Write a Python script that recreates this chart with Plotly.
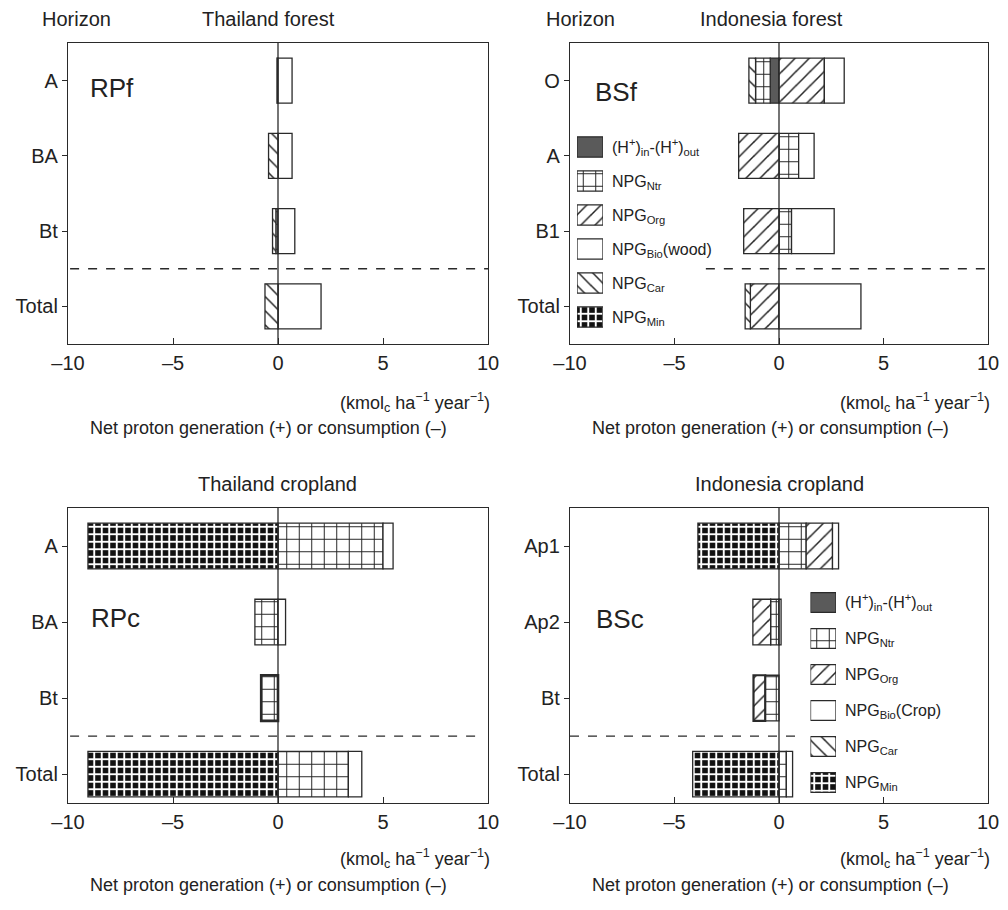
import plotly.graph_objects as go

W, H = 1008, 910

# ---------------- data ----------------
th_forest_horizons = ["A", "BA", "Bt", "Total"]
id_forest_horizons = ["O", "A", "B1", "Total"]
th_crop_horizons = ["A", "BA", "Bt", "Total"]
id_crop_horizons = ["Ap1", "Ap2", "Bt", "Total"]

# Thailand forest (RPf)
RPf_H = [0, 0, 0, 0]
RPf_Ntr = [-0.05, 0, -0.1, 0]
RPf_Org = [0, 0, 0, 0]
RPf_Bio = [0.67, 0.67, 0.8, 2.05]
RPf_Car = [0, -0.45, -0.16, -0.62]
RPf_Min = [0, 0, 0, 0]

# Indonesia forest (BSf)
BSf_H = [-0.42, 0, 0, 0]
BSf_Ntr = [-0.7, 0.94, 0.6, 0]
BSf_Org = [2.17, -1.93, -1.69, -1.37]
BSf_Bio = [0.95, 0.74, 2.04, 3.92]
BSf_Car = [-0.32, 0, 0, -0.25]
BSf_Min = [0, 0, 0, 0]

# Thailand cropland (RPc)
RPc_H = [0, 0, 0, 0]
RPc_Ntr = [5.0, -1.1, -0.8, 3.35]
RPc_Org = [0, 0, 0, 0]
RPc_Bio = [0.48, 0.36, 0, 0.64]
RPc_Car = [0, 0, 0, 0]
RPc_Min = [-9.05, 0, 0, -9.05]

# Indonesia cropland (BSc)
BSc_H = [0, 0, 0, 0]
BSc_Ntr = [1.3, -0.4, -0.66, 0.35]
BSc_Org = [1.26, -0.85, -0.56, 0]
BSc_Bio = [0.29, 0.1, 0, 0.3]
BSc_Car = [0, 0, 0, 0]
BSc_Min = [-3.88, 0, 0, -4.13]

x_tick_vals = [-10, -5, 0, 5, 10]
x_tick_text = ["–10", "–5", "0", "5", "10"]

legend_forest_labels = ["(H<sup>+</sup>)<sub>in</sub>-(H<sup>+</sup>)<sub>out</sub>", "NPG<sub>Ntr</sub>",
                        "NPG<sub>Org</sub>", "NPG<sub>Bio</sub>(wood)", "NPG<sub>Car</sub>", "NPG<sub>Min</sub>"]
legend_crop_labels = ["(H<sup>+</sup>)<sub>in</sub>-(H<sup>+</sup>)<sub>out</sub>", "NPG<sub>Ntr</sub>",
                      "NPG<sub>Org</sub>", "NPG<sub>Bio</sub>(Crop)", "NPG<sub>Car</sub>", "NPG<sub>Min</sub>"]
legend_key = [1, 1, 1, 1, 1, 1]

# ---------------- styles ----------------
FONT = "Liberation Sans, Arial, Helvetica, sans-serif"
TXT = "#222222"
LINE = "#2a2a2a"
COMPS = ["H", "Ntr", "Org", "Bio", "Car", "Min"]
STYLE = {
    "H": dict(color="#5a5a5a", shape="", fg="#5a5a5a", bg="#5a5a5a", size=8, sol=0.3),
    "Ntr": dict(color="white", shape="+", fg="#222222", bg="white", size=12.5, sol=0.15),
    "Org": dict(color="white", shape="/", fg="#222222", bg="white", size=10, sol=0.15),
    "Bio": dict(color="white", shape="", fg="white", bg="white", size=8, sol=0.3),
    "Car": dict(color="white", shape="\\", fg="#222222", bg="white", size=10, sol=0.15),
    "Min": dict(color="black", shape="+", fg="white", bg="#111111", size=7.5, sol=0.45),
}
# heavier outlines seen on a few bars (panel index, component) -> per-row widths
HEAVY = {(2, "Ntr"): [1.3, 1.3, 2.6, 1.3], (3, "Org"): [1.3, 1.3, 2.2, 1.3]}


def px_x(p):
    return p / W


def px_y(p):
    return 1 - p / H


def marker_for(c, lw=1.3):
    st = STYLE[c]
    return dict(color=st["color"], line=dict(color=LINE, width=lw),
                pattern=dict(shape=st["shape"], fgcolor=st["fg"], bgcolor=st["bg"],
                             size=st["size"], solidity=st["sol"], fillmode="replace"))


panels = [
    dict(cats=th_forest_horizons,
         vals=dict(H=RPf_H, Ntr=RPf_Ntr, Org=RPf_Org, Bio=RPf_Bio, Car=RPf_Car, Min=RPf_Min),
         xpx=(68, 488), ypx=(43, 344)),
    dict(cats=id_forest_horizons,
         vals=dict(H=BSf_H, Ntr=BSf_Ntr, Org=BSf_Org, Bio=BSf_Bio, Car=BSf_Car, Min=BSf_Min),
         xpx=(570, 988), ypx=(43, 344)),
    dict(cats=th_crop_horizons,
         vals=dict(H=RPc_H, Ntr=RPc_Ntr, Org=RPc_Org, Bio=RPc_Bio, Car=RPc_Car, Min=RPc_Min),
         xpx=(68, 488), ypx=(508, 803)),
    dict(cats=id_crop_horizons,
         vals=dict(H=BSc_H, Ntr=BSc_Ntr, Org=BSc_Org, Bio=BSc_Bio, Car=BSc_Car, Min=BSc_Min),
         xpx=(570, 988), ypx=(508, 803)),
]

fig = go.Figure()
layout = dict(
    width=W, height=H, margin=dict(l=0, r=0, t=0, b=0, pad=0, autoexpand=False),
    paper_bgcolor="white", plot_bgcolor="white",
    barmode="relative", showlegend=False,
    font=dict(family=FONT, color=TXT, size=20),
)

shapes = []
for i, p in enumerate(panels):
    sfx = "" if i == 0 else str(i + 1)
    xa, ya = "x" + sfx, "y" + sfx
    for c in COMPS:
        vals = [v if v != 0 else None for v in p["vals"][c]]
        lw = HEAVY.get((i, c), 1.3)
        fig.add_trace(go.Bar(
            x=vals, y=p["cats"], orientation="h", xaxis=xa, yaxis=ya, width=0.6,
            marker=marker_for(c, lw), hoverinfo="skip", showlegend=False))
    bottom_pad = 0.5 if i < 2 else 0.38
    layout["xaxis" + sfx] = dict(
        domain=[px_x(p["xpx"][0]), px_x(p["xpx"][1])], anchor=ya, range=[-10, 10],
        tickvals=x_tick_vals, ticktext=x_tick_text, ticks="inside", ticklen=6, tickwidth=1.3,
        tickcolor=LINE, showline=True, mirror=True, linecolor=LINE, linewidth=1.3,
        showgrid=False, zeroline=False, tickfont=dict(size=20), ticklabelstandoff=1,
        automargin=False)
    layout["yaxis" + sfx] = dict(
        domain=[px_y(p["ypx"][1]), px_y(p["ypx"][0])], anchor=xa, type="category",
        categoryorder="array", categoryarray=p["cats"], range=[3 + bottom_pad, -0.5],
        ticks="outside", ticklen=5, tickwidth=1.3, tickcolor=LINE, showline=True, mirror=True,
        linecolor=LINE, linewidth=1.3, showgrid=False, zeroline=False,
        tickfont=dict(size=20), ticklabelstandoff=0, automargin=False)
    shapes.append(dict(type="line", xref=xa, yref=ya + " domain", x0=0, x1=0, y0=0, y1=1,
                       line=dict(color=LINE, width=1.3), layer="above"))

# dashed separators between horizons and total
shapes.append(dict(type="line", xref="x domain", yref="y", x0=0.005, x1=1, y0=2.5, y1=2.5,
                   line=dict(color=LINE, width=1.3, dash="dash")))
shapes.append(dict(type="line", xref="x2", yref="y2", x0=-3.5, x1=10, y0=2.5, y1=2.5,
                   line=dict(color=LINE, width=1.3, dash="dash")))
shapes.append(dict(type="line", xref="x3 domain", yref="y3", x0=0.005, x1=0.985, y0=2.5, y1=2.5,
                   line=dict(color=LINE, width=1.3, dash="dash")))
shapes.append(dict(type="line", xref="x4", yref="y4", x0=-10, x1=0.95, y0=2.5, y1=2.5,
                   line=dict(color=LINE, width=1.3, dash="dash")))

# legend keys drawn as small bar charts (one bar per legend entry)
legends = [
    dict(labels=legend_forest_labels, xpx=(577, 603), ypx=(130, 334), w=0.6, n=5),
    dict(labels=legend_crop_labels, xpx=(810.5, 836), ypx=(584.5, 800.5), w=0.55, n=6),
]
for lg in legends:
    sfx = str(lg["n"])
    xa, ya = "x" + sfx, "y" + sfx
    for k, c in enumerate(COMPS):
        fig.add_trace(go.Bar(
            x=[legend_key[k]], y=[lg["labels"][k]], orientation="h", xaxis=xa, yaxis=ya,
            width=lg["w"], marker=marker_for(c), hoverinfo="skip", showlegend=False))
    layout["xaxis" + sfx] = dict(domain=[px_x(lg["xpx"][0]), px_x(lg["xpx"][1])], anchor=ya,
                                 range=[0, 1], visible=False, automargin=False)
    layout["yaxis" + sfx] = dict(domain=[px_y(lg["ypx"][1]), px_y(lg["ypx"][0])], anchor=xa,
                                 type="category", categoryorder="array", categoryarray=lg["labels"],
                                 autorange="reversed", side="right", ticks="", showline=False,
                                 showgrid=False, zeroline=False, tickfont=dict(size=16),
                                 ticklabelstandoff=8, automargin=False)

layout["shapes"] = shapes

ann = []


def add_text(text, x, y, size=20, xanchor="center"):
    ann.append(dict(text=text, x=px_x(x), y=px_y(y), xref="paper", yref="paper",
                    xanchor=xanchor, yanchor="middle", showarrow=False,
                    font=dict(size=size, family=FONT, color=TXT)))


add_text("Horizon", 76, 19)
add_text("Thailand forest", 268, 19)
add_text("Horizon", 580, 19)
add_text("Indonesia forest", 771, 19)
add_text("Thailand cropland", 277, 484)
add_text("Indonesia cropland", 779, 484)

add_text("RPf", 88, 88, size=26, xanchor="left")
add_text("BSf", 593, 92, size=26, xanchor="left")
add_text("RPc", 89, 618, size=26, xanchor="left")
add_text("BSc", 594, 619, size=26, xanchor="left")

units = "(kmol<sub>c</sub> ha<sup>−1</sup> year<sup>−1</sup>)"
netlab = "Net proton generation (+) or consumption (–)"
for xr, zero, yu, yn in [(492, 268, 402, 428), (992, 770, 402, 428),
                         (492, 268, 858, 885), (992, 770, 858, 885)]:
    add_text(units, xr, yu, size=18, xanchor="right")
    add_text(netlab, zero, yn, size=18)

layout["annotations"] = ann
fig.update_layout(**layout)
fig.write_html("out.html", config={"displayModeBar": False},
               post_script="document.body.style.margin='0px';")
